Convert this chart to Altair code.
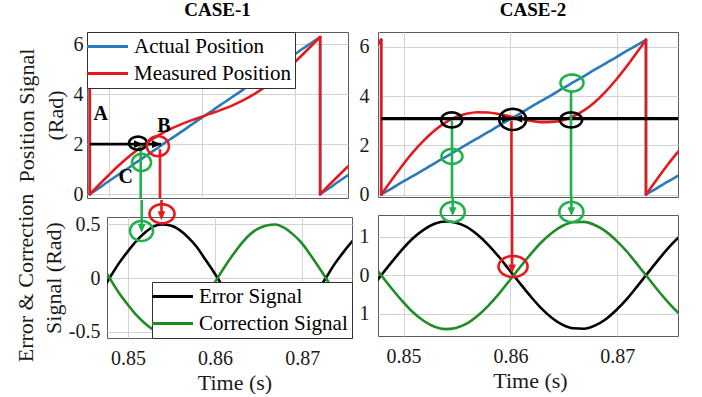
import math
import altair as alt
import pandas as pd

SERIF = "Liberation Serif, Times New Roman, serif"
BLUE = "#2a7ab8"
RED = "#e41a1c"
BLACK = "#000000"
SIG_GREEN = "#1f8c24"
MARK_GREEN = "#20b14f"
GRID = "#d3d3d3"
FRAME = "#5c5c5c"
TEXT = "#1a1a1a"

T_DOMAIN = [0.8476, 0.8757]
T_TICKS = [0.85, 0.86, 0.87]

# sample instants (s); a repeated instant marks the 2*pi -> 0 wrap of the angle
time = [0.8476, 0.8479, 0.8479, 0.8489, 0.8499, 0.8509, 0.8519, 0.8529, 0.8539, 0.8549,
        0.8559, 0.8569, 0.8579, 0.8589, 0.8599, 0.8609, 0.8619, 0.8629, 0.8639, 0.8649,
        0.8659, 0.8669, 0.8679, 0.8689, 0.8699, 0.8709, 0.8719, 0.8727, 0.8727, 0.8737,
        0.8747, 0.8757, 0.8767]

actual_position = [6.21, 6.28, 0.00, 0.25, 0.51, 0.76, 1.01, 1.27, 1.52, 1.77,
                   2.03, 2.28, 2.53, 2.79, 3.04, 3.29, 3.55, 3.80, 4.05, 4.31,
                   4.56, 4.81, 5.07, 5.32, 5.57, 5.83, 6.08, 6.28, 0.00, 0.25,
                   0.51, 0.76, 1.01]

measured_case1 = [6.17, 6.28, 0.00, 0.38, 0.75, 1.11, 1.44, 1.74, 2.02, 2.26,
                  2.48, 2.66, 2.82, 2.96, 3.09, 3.22, 3.35, 3.49, 3.66, 3.85,
                  4.07, 4.32, 4.60, 4.91, 5.25, 5.61, 5.98, 6.28, 0.00, 0.38,
                  0.75, 1.11, 1.44]

error_case1 = [-0.04, 0.00, 0.00, 0.13, 0.24, 0.34, 0.42, 0.48, 0.50, 0.49,
               0.45, 0.38, 0.29, 0.17, 0.05, -0.08, -0.20, -0.31, -0.40, -0.46,
               -0.49, -0.50, -0.47, -0.41, -0.33, -0.22, -0.10, 0.00, 0.00, 0.13,
               0.24, 0.34, 0.42]

correction_case1 = [0.04, 0.00, 0.00, -0.13, -0.24, -0.34, -0.42, -0.48, -0.50, -0.49,
                    -0.45, -0.38, -0.29, -0.17, -0.05, 0.08, 0.20, 0.31, 0.40, 0.46,
                    0.49, 0.50, 0.47, 0.41, 0.33, 0.22, 0.10, 0.00, 0.00, -0.13,
                    -0.24, -0.34, -0.42]

measured_case2 = [6.10, 6.28, 0.00, 0.60, 1.19, 1.73, 2.20, 2.60, 2.92, 3.15,
                  3.28, 3.34, 3.33, 3.27, 3.18, 3.08, 3.00, 2.94, 2.95, 3.02,
                  3.18, 3.42, 3.75, 4.17, 4.66, 5.21, 5.80, 6.28, 0.00, 0.60,
                  1.19, 1.73, 2.20]

error_case2 = [-0.11, 0.00, 0.00, 0.35, 0.68, 0.97, 1.19, 1.34, 1.40, 1.37,
               1.26, 1.06, 0.80, 0.49, 0.14, -0.21, -0.55, -0.86, -1.11, -1.29,
               -1.38, -1.39, -1.31, -1.15, -0.91, -0.62, -0.28, 0.00, 0.00, 0.35,
               0.68, 0.97, 1.19]

correction_case2 = [0.11, 0.00, 0.00, -0.35, -0.68, -0.97, -1.19, -1.34, -1.40, -1.37,
                    -1.26, -1.06, -0.80, -0.49, -0.14, 0.21, 0.55, 0.86, 1.11, 1.29,
                    1.38, 1.39, 1.31, 1.15, 0.91, 0.62, 0.28, 0.00, 0.00, -0.35,
                    -0.68, -0.97, -1.19]

POSITION_NAMES = ["Actual Position", "Measured Position"]
SIGNAL_NAMES = ["Error Signal", "Correction Signal"]

# panel geometry (plot area only) and y ranges
TL_W, TL_H, TL_Y = 261, 166, [-0.15, 6.48]
TR_W, TR_H, TR_Y = 300, 165, [-0.10, 6.60]
BL_W, BL_H, BL_Y = 245, 121, [-0.56, 0.57]
BR_W, BR_H, BR_Y = 300, 121, [-1.58, 1.57]
GAP_L, GAP_R = 17, 18          # vertical gap between upper and lower frames
BL_INDENT = 19                 # lower-left frame starts right of the upper-left one

# annotation positions (time, value) in each panel's own axes
case1_trace = [dict(t=0.8479, t2=0.85557, v=2.0)]
case1_top_rings = [(0.85309, 2.04, BLACK, 18, 13), (0.85524, 1.92, RED, 22, 20),
                   (0.85347, 1.27, MARK_GREEN, 19, 17)]
case1_top_drops = [(0.85338, 1.96, MARK_GREEN), (0.85546, 1.80, RED)]
case1_top_heads = [(0.85363, 2.0, BLACK, "right"), (0.85557, 2.0, BLACK, "right")]
case1_letters = [("A", 0.84908, 3.20), ("B", 0.85589, 2.74), ("C", 0.85177, 0.69)]
case1_bot_rings = [(0.85156, 0.44, MARK_GREEN, 23, 20), (0.85391, 0.60, RED, 25, 19)]
case1_bot_tips = [(0.85158, 0.42, MARK_GREEN), (0.85385, 0.54, RED)]

case2_trace = [dict(t=0.8479, t2=0.8757, v=3.08)]
case2_top_rings = [(0.85450, 3.03, BLACK, 21, 15), (0.86022, 3.05, BLACK, 27, 21),
                   (0.86568, 3.03, BLACK, 22, 15), (0.85453, 1.55, MARK_GREEN, 21, 15),
                   (0.86577, 4.53, MARK_GREEN, 23, 17)]
case2_top_drops = [(0.85453, 3.0, MARK_GREEN), (0.86568, 4.2, MARK_GREEN), (0.86010, 3.0, RED)]
case2_top_heads = [(0.86006, 3.08, BLACK, "right"), (0.86026, 3.08, BLACK, "left")]
case2_bot_rings = [(0.85460, 1.65, MARK_GREEN, 24, 20), (0.86571, 1.65, MARK_GREEN, 24, 20),
                   (0.86025, 0.23, RED, 29, 21)]
case2_bot_tips = [(0.85460, 1.54, MARK_GREEN), (0.86571, 1.54, MARK_GREEN), (0.86016, 0.05, RED)]

HEADS = {
    "down": "M-0.85,-2L0.85,-2L0,0Z",
    "right": "M-2,-0.85L-2,0.85L0,0Z",
    "left": "M2,-0.85L2,0.85L0,0Z",
}
LEGEND_LINE = "M-4,0L4,0"


def ring_path(w, h):
    k = h / w
    pts = [(math.cos(2 * math.pi * i / 40), k * math.sin(2 * math.pi * i / 40)) for i in range(40)]
    return "M" + "L".join(f"{x:.3f},{y:.3f}" for x, y in pts) + "Z"


def trace(values, series):
    """Split a sampled signal into smooth pieces joined by vertical wrap segments."""
    rows, piece = [], 0
    for i, (t, v) in enumerate(zip(time, values)):
        if i and t == time[i - 1]:
            if v == values[i - 1]:
                continue
            rows.append(dict(t=t, v=values[i - 1], series=series, piece=f"w{i}", k=0))
            rows.append(dict(t=t, v=v, series=series, piece=f"w{i}", k=1))
            piece += 1
        rows.append(dict(t=t, v=v, series=series, piece=f"p{piece}", k=i))
    return rows


def data_lines(rows, names, colors, ydom, xaxis, yaxis, legend):
    df = pd.DataFrame(rows)
    layers = []
    for name in names:
        layers.append(
            alt.Chart(df)
            .transform_filter(alt.datum.series == name)
            .mark_line(strokeWidth=2.6, interpolate="monotone", clip=True,
                       strokeCap="round", strokeJoin="round")
            .encode(
                x=alt.X("t:Q", scale=alt.Scale(domain=T_DOMAIN, nice=False, zero=False), axis=xaxis),
                y=alt.Y("v:Q", scale=alt.Scale(domain=ydom, nice=False, zero=False), axis=yaxis),
                color=alt.Color("series:N", scale=alt.Scale(domain=names, range=colors), legend=legend),
                detail="piece:N",
                order="k:Q",
            )
        )
    return layers


def rings(items):
    df = pd.DataFrame([dict(t=t, v=v, c=c, shp=ring_path(w, h), sz=w * w) for t, v, c, w, h in items])
    return alt.Chart(df).mark_point(filled=False, strokeWidth=2.6, opacity=1).encode(
        x="t:Q", y="v:Q",
        stroke=alt.Stroke("c:N", scale=None),
        shape=alt.Shape("shp:N", scale=None),
        size=alt.Size("sz:Q", scale=None),
    )


def heads(items):
    df = pd.DataFrame([dict(t=t, v=v, c=c, shp=HEADS[d]) for t, v, c, d in items])
    return alt.Chart(df).mark_point(filled=True, size=81, opacity=1, strokeWidth=0).encode(
        x="t:Q", y="v:Q",
        fill=alt.Fill("c:N", scale=None),
        shape=alt.Shape("shp:N", scale=None),
    )


def drops_down(items, height):
    """Vertical connectors running from a mark to the bottom edge of the panel."""
    df = pd.DataFrame([dict(t=t, v=v, c=c) for t, v, c in items])
    return alt.Chart(df).mark_rule(strokeWidth=2.6).encode(
        x="t:Q", y="v:Q", y2=alt.value(height), stroke=alt.Stroke("c:N", scale=None))


def drops_in(items, gap):
    """Connectors entering from the panel above and ending on an arrow tip."""
    df = pd.DataFrame([dict(t=t, v=v, c=c, shp=HEADS["down"]) for t, v, c in items])
    rule = alt.Chart(df).mark_rule(strokeWidth=2.6, yOffset=-5).encode(
        x="t:Q", y="v:Q", y2=alt.value(-gap), stroke=alt.Stroke("c:N", scale=None))
    tip = alt.Chart(df).mark_point(filled=True, size=81, opacity=1, strokeWidth=0).encode(
        x="t:Q", y="v:Q", fill=alt.Fill("c:N", scale=None), shape=alt.Shape("shp:N", scale=None))
    return [rule, tip]


def hline(rows, width):
    return alt.Chart(pd.DataFrame(rows)).mark_rule(strokeWidth=width, color=BLACK).encode(
        x="t:Q", x2="t2:Q", y="v:Q")


def legend(orient):
    return alt.Legend(
        title=None, orient=orient, offset=0, padding=4,
        strokeColor="#303030", fillColor="white",
        symbolType=LEGEND_LINE, symbolSize=105, symbolStrokeWidth=3, symbolOffset=6,
        labelFont=SERIF, labelFontSize=21, labelColor=BLACK, labelOffset=16,
        rowPadding=5,
    )


top_x = alt.Axis(values=T_TICKS, labels=False, ticks=False, domain=False, title=None, grid=True)


def bottom_x(width, shift):
    return alt.Axis(values=T_TICKS, format=".2f", title="Time (s)", grid=True,
                    labelPadding=10, titlePadding=4, titleX=width / 2 + shift)


def independent(spec):
    return spec.resolve_scale(color="independent").resolve_legend(color="independent")


# ---- CASE-1 ----
tl_axis_y = alt.Axis(values=[0, 2, 4, 6], title=["Position Signal", "(Rad)"],
                     labelPadding=4, titlePadding=6, titleLineHeight=29)
top_left = alt.layer(
    *data_lines(trace(actual_position, POSITION_NAMES[0]) + trace(measured_case1, POSITION_NAMES[1]),
                POSITION_NAMES, [BLUE, RED], TL_Y, top_x, tl_axis_y, legend("top-left")),
    hline(case1_trace, 2.6),
    drops_down(case1_top_drops, TL_H),
    heads(case1_top_heads),
    rings(case1_top_rings),
    alt.Chart(pd.DataFrame([dict(s=s, t=t, v=v) for s, t, v in case1_letters]))
    .mark_text(font=SERIF, fontSize=20, fontWeight="bold", color=BLACK)
    .encode(x="t:Q", y="v:Q", text="s:N"),
).properties(
    width=TL_W, height=TL_H,
    title=alt.TitleParams("CASE-1", anchor="middle", frame="group", offset=12),
)

bl_axis_y = alt.Axis(
    values=[-0.5, 0, 0.5],
    labelExpr="datum.value == 0 ? '0' : replace(format(datum.value, '.1f'), '\u2212', '-')",
    title=["Error & Correction", "Signal (Rad)"],
    labelPadding=7, titlePadding=3, titleLineHeight=28,
)
bottom_left = alt.layer(
    *data_lines(trace(error_case1, SIGNAL_NAMES[0]) + trace(correction_case1, SIGNAL_NAMES[1]),
                SIGNAL_NAMES, [BLACK, SIG_GREEN], BL_Y, bottom_x(BL_W, 5), bl_axis_y,
                legend("bottom-right")),
    *drops_in(case1_bot_tips, GAP_L),
    rings(case1_bot_rings),
).properties(width=BL_W, height=BL_H)

# empty strip that indents the lower-left frame
indent = alt.Chart(pd.DataFrame({"s": [0]})).mark_point(opacity=0).encode(
    x=alt.value(0), y=alt.value(0)
).properties(width=1, height=BL_H, view=alt.ViewBackground(stroke="transparent"))

BL_LEFT_EXTENT = 96  # width of the lower-left y-axis labels and two-line title
bottom_left_row = independent(
    alt.hconcat(indent, bottom_left, spacing=BL_INDENT - 1 - BL_LEFT_EXTENT))

# ---- CASE-2 ----
tr_axis_y = alt.Axis(values=[0, 2, 4, 6], title=None, labelPadding=9)
top_right = alt.layer(
    *data_lines(trace(actual_position, POSITION_NAMES[0]) + trace(measured_case2, POSITION_NAMES[1]),
                POSITION_NAMES, [BLUE, RED], TR_Y, top_x, tr_axis_y, None),
    hline(case2_trace, 3.2),
    drops_down(case2_top_drops, TR_H),
    heads(case2_top_heads),
    rings(case2_top_rings),
).properties(
    width=TR_W, height=TR_H,
    title=alt.TitleParams("CASE-2", anchor="middle", frame="group", offset=12, dx=5),
)

br_axis_y = alt.Axis(values=[-1, 0, 1], labelExpr="format(abs(datum.value), 'd')",
                     title=None, labelPadding=9)
bottom_right = alt.layer(
    *data_lines(trace(error_case2, SIGNAL_NAMES[0]) + trace(correction_case2, SIGNAL_NAMES[1]),
                SIGNAL_NAMES, [BLACK, SIG_GREEN], BR_Y, bottom_x(BR_W, 2), br_axis_y, None),
    *drops_in(case2_bot_tips, GAP_R),
    rings(case2_bot_rings),
).properties(width=BR_W, height=BR_H)

left = independent(alt.vconcat(top_left, bottom_left_row, spacing=-13))
right = independent(alt.vconcat(top_right, bottom_right, spacing=-11))

chart = (
    independent(alt.hconcat(left, right, spacing=5))
    .properties(padding={"left": 13, "top": 0, "right": 0, "bottom": 0})
    .configure_view(stroke=FRAME, strokeWidth=1)
    .configure_axis(
        labelFont=SERIF, labelFontSize=20, labelColor=TEXT,
        titleFont=SERIF, titleFontSize=22, titleFontWeight="normal", titleColor=TEXT,
        gridColor=GRID, gridWidth=1, domain=False, ticks=False,
    )
    .configure_title(font=SERIF, fontSize=19, fontWeight="bold", color=BLACK)
)

chart.save("out.html", embed_options={"renderer": "svg", "actions": False})
